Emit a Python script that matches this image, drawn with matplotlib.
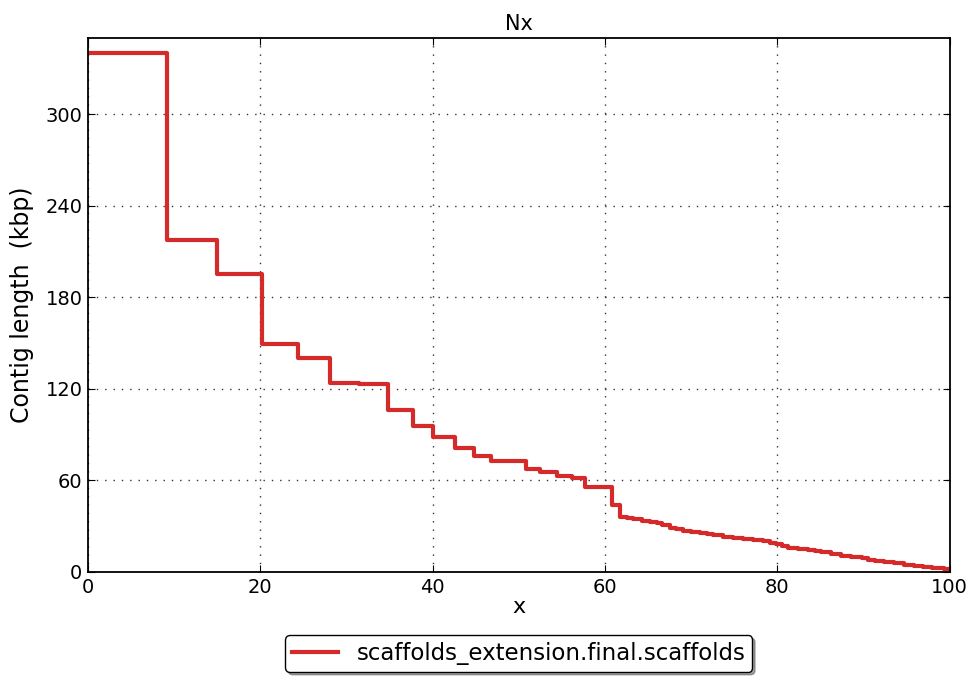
"""Nx plot: contig length vs. x (step curve), old-matplotlib look."""

import matplotlib
matplotlib.use("Agg")
import matplotlib.pyplot as plt

# step starts (x, %) and contig length (kbp) of each step
x_starts = [0, 9.2, 15.0, 20.2, 24.4, 28.1, 31.5, 34.8, 37.7, 40.1, 42.6,
            44.8, 46.8, 50.8, 52.5, 54.4, 56.2, 57.7, 60.8, 61.8, 62.6,
            63.3, 64.3, 65.2, 66.0, 66.6, 67.5, 68.3, 69.1, 70.0, 71.0,
            71.8, 72.5, 73.7, 74.9, 76.0, 77.2, 78.3, 79.2, 79.9, 80.5,
            81.2, 82.4, 83.6, 84.4, 85.1, 86.2, 87.4, 88.6, 89.8, 90.5,
            91.3, 92.4, 93.6, 94.7, 95.9, 96.9, 97.9, 98.7, 99.4]
lengths = [340, 217.5, 195, 149.5, 140.5, 124, 123, 106.5, 95.6, 88.6, 81,
           76, 72.5, 67.7, 65.7, 63, 61.4, 55.9, 43.9, 35.8, 35.2,
           34.5, 33.6, 32.7, 31.8, 31.0, 29.0, 28.0, 27.0, 26.4, 25.7,
           25.0, 24.4, 23.2, 22.0, 21.5, 21.0, 20.3, 19.0, 18.1, 17.0,
           15.5, 15.0, 14.4, 13.7, 12.9, 11.8, 10.7, 9.8, 9.0, 8.1,
           7.2, 6.5, 5.7, 4.9, 4.1, 3.5, 2.8, 2.3, 1.8]
x_end = 100

x_ticks = [0, 20, 40, 60, 80, 100]
y_ticks = [0, 60, 120, 180, 240, 300]
label = "scaffolds_extension.final.scaffolds"

plt.rcParams["font.family"] = "DejaVu Sans"

fig = plt.figure(figsize=(9.72, 6.79), dpi=100)
ax = fig.add_axes([0.0905, 0.1576, 0.8865, 0.7864])

xs = x_starts + [x_end]
ys = lengths + [lengths[-1]]
ax.step(xs, ys, where="post", color="#d42a2a", linewidth=3, label=label)

ax.set_xlim(0, 100)
ax.set_ylim(0, 350)
ax.set_xticks(x_ticks)
ax.set_yticks(y_ticks)
ax.tick_params(direction="in", top=True, right=True, length=5,
               labelsize=14, pad=4)
ax.grid(True, color="#333333", linestyle=(0, (1, 5)), linewidth=1.0)
for sp in ax.spines.values():
    sp.set_linewidth(1.3)

ax.set_title("Nx", fontsize=15, pad=6)
ax.set_xlabel("x", fontsize=16, labelpad=0)
ax.set_ylabel("Contig length  (kbp)", fontsize=17, labelpad=8)

leg = ax.legend(loc="upper center", bbox_to_anchor=(0.5, -0.097),
                fancybox=True, shadow=True, fontsize=16.5, handlelength=2.0,
                borderpad=0.3, framealpha=1)
leg.get_frame().set_edgecolor("black")

fig.savefig("out.png", dpi=100)
